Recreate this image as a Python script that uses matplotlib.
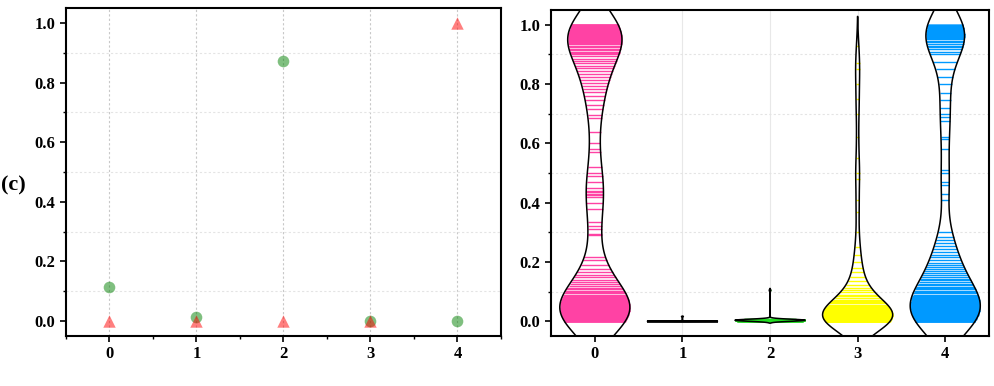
import numpy as np
import matplotlib.pyplot as plt
from matplotlib import mlab
from matplotlib.ticker import MultipleLocator, FormatStrFormatter

plt.rcParams['font.family'] = ['Liberation Serif', 'DejaVu Serif']
plt.rcParams['font.weight'] = 'bold'
plt.rcParams['font.size'] = 10

# left panel: one value per class
classes = [0, 1, 2, 3, 4]
green_vals = [0.115, 0.015, 0.872, 0.0, 0.0]
red_vals = [0.0, 0.0, 0.0, 0.0, 1.0]

# right panel: samples per class, read from the sticks
v0 = [0.0, 0.0, 0.0, 0.0, 0.0, 0.0, 0.0, 0.0, 0.0, 0.0,
      0.002, 0.004, 0.006, 0.008, 0.01, 0.012, 0.014, 0.016,
      0.018, 0.02, 0.022, 0.024, 0.026, 0.028, 0.03, 0.032, 0.034, 0.036, 0.038,
      0.04, 0.043, 0.046, 0.049, 0.052, 0.055, 0.058,
      0.061, 0.064, 0.067, 0.07, 0.073, 0.076, 0.079, 0.082, 0.086, 0.09, 0.094,
      0.098, 0.102, 0.108, 0.113, 0.12, 0.126, 0.132, 0.14, 0.148, 0.155, 0.165,
      0.175, 0.19, 0.205, 0.218,
      0.29, 0.295, 0.31, 0.32, 0.335, 0.38, 0.4, 0.42, 0.425, 0.43, 0.435, 0.44,
      0.45, 0.47, 0.49, 0.5, 0.52, 0.57, 0.58, 0.6, 0.64,
      0.685, 0.695, 0.715, 0.73, 0.745, 0.76, 0.775, 0.785, 0.795, 0.805, 0.815,
      0.825, 0.835, 0.845, 0.855, 0.862, 0.87, 0.878, 0.886, 0.894,
      0.9, 0.905, 0.91, 0.915, 0.92, 0.925, 0.93, 0.934, 0.938, 0.942, 0.946,
      0.95, 0.953, 0.956, 0.959, 0.962, 0.965, 0.968, 0.971, 0.974, 0.977, 0.98,
      0.983, 0.986, 0.989, 0.992, 0.995, 0.998,
      1.0, 1.0, 1.0, 1.0, 1.0, 1.0, 1.0, 1.0, 1.0]
v1 = [0.0, 0.0, 0.0, 0.0, 0.0, 0.0, 0.0, 0.0, 0.0, 0.0,
      0.0, 0.0, 0.0, 0.0, 0.0, 0.0, 0.0, 0.0, 0.0, 0.0,
      0.0, 0.0, 0.0, 0.0, 0.0, 0.0, 0.0, 0.0, 0.0, 0.0,
      0.0, 0.0, 0.0, 0.0, 0.0, 0.0, 0.0, 0.0, 0.0, 0.016]
v2 = [0.002, 0.003, 0.004, 0.003, 0.002, 0.005, 0.004, 0.003, 0.006, 0.002,
      0.001, 0.003, 0.004, 0.005, 0.003, 0.002, 0.004, 0.003, 0.007, 0.0,
      0.003, 0.004, 0.002, 0.005, 0.003, 0.004, 0.003, 0.002, 0.003, 0.004,
      0.005, 0.002, 0.003, 0.004, 0.003, 0.001, 0.006, 0.003, 0.002, 0.004,
      0.003, 0.005, 0.002, 0.003, 0.004, 0.003, 0.002, 0.004, 0.003, 0.104]
v3 = [0.0, 0.0, 0.0, 0.0, 0.0, 0.0, 0.0, 0.0, 0.0, 0.0, 0.0, 0.0, 0.0, 0.0,
      0.001, 0.002, 0.003, 0.004, 0.005,
      0.006, 0.007, 0.008, 0.009, 0.01, 0.011, 0.012, 0.013, 0.014, 0.015, 0.016,
      0.017, 0.018, 0.019, 0.02, 0.022, 0.024, 0.026, 0.028, 0.03, 0.032, 0.034,
      0.036, 0.038, 0.04, 0.043, 0.046, 0.049, 0.052, 0.056, 0.06, 0.064, 0.068,
      0.073, 0.078, 0.084, 0.09, 0.097, 0.105, 0.113, 0.122,
      0.135, 0.15, 0.165, 0.18, 0.2, 0.225, 0.25,
      0.3, 0.37, 0.41, 0.48, 0.5, 0.55, 0.62, 0.7, 0.75, 0.8, 0.85, 0.87, 0.93]
v4 = [0.0, 0.0, 0.0, 0.0, 0.0, 0.0, 0.0, 0.0, 0.0, 0.0, 0.0,
      0.002, 0.004, 0.006, 0.008, 0.01, 0.012, 0.014,
      0.016, 0.018, 0.02, 0.022, 0.024, 0.026, 0.028, 0.03, 0.032, 0.034, 0.036,
      0.038, 0.04, 0.042, 0.044, 0.046, 0.048, 0.05, 0.053, 0.056, 0.059, 0.062,
      0.065, 0.068, 0.071, 0.074, 0.077, 0.08, 0.083, 0.086, 0.09, 0.094, 0.098,
      0.102, 0.107, 0.112, 0.117, 0.122, 0.127, 0.132, 0.138, 0.144, 0.15, 0.156,
      0.162, 0.168, 0.175, 0.182, 0.19, 0.197,
      0.205, 0.215, 0.225, 0.235, 0.245, 0.255, 0.265, 0.275, 0.285, 0.3,
      0.41, 0.43, 0.46, 0.47, 0.5, 0.51, 0.58, 0.615, 0.62,
      0.675, 0.69, 0.7, 0.72, 0.745, 0.77, 0.8, 0.825, 0.85, 0.875,
      0.9, 0.91, 0.918, 0.925, 0.93, 0.935, 0.943, 0.947, 0.951, 0.955, 0.958,
      0.962, 0.965, 0.968, 0.97, 0.972, 0.975, 0.978, 0.98, 0.982, 0.985, 0.988,
      0.99, 0.992, 0.995, 0.997, 1.0, 1.0, 1.0, 1.0, 1.0]
violin_data = [v0, v1, v2, v3, v4]
stick_colors = ['#FF42A4', '#222222', '#22DD22', '#FFFF00', '#0099FF']
bw_adjust = 0.5


def style_axes(ax, xminor):
    ax.set_xlim(-0.5, 4.5)
    ax.set_ylim(-0.05, 1.05)
    ax.set_xticks(classes)
    ax.yaxis.set_major_locator(MultipleLocator(0.2))
    ax.yaxis.set_minor_locator(MultipleLocator(0.1))
    ax.yaxis.set_major_formatter(FormatStrFormatter('%.1f'))
    if xminor:
        ax.xaxis.set_minor_locator(MultipleLocator(0.5))
    ax.tick_params(which='major', direction='out', length=4, width=1.2, labelsize=12)
    ax.tick_params(which='minor', direction='out', length=2.5, width=1)
    for sp in ax.spines.values():
        sp.set_linewidth(1.5)
    ax.set_axisbelow(True)


fig = plt.figure(figsize=(9.95, 3.86), dpi=100)
ax1 = fig.add_axes([0.0663, 0.1295, 0.4372, 0.8495])
ax2 = fig.add_axes([0.5538, 0.1295, 0.4402, 0.8445])

# left: scatter
style_axes(ax1, True)
ax1.grid(axis='x', which='major', ls=(0, (2, 2)), color='#c8c8c8', lw=0.8)
ax1.grid(axis='y', which='minor', ls=(0, (2, 2)), color='#e4e4e4', lw=0.8)
ax1.scatter(classes, green_vals, s=70, c='green', alpha=0.5, marker='o',
            linewidths=0, zorder=3)
ax1.scatter(classes, red_vals, s=80, c='red', alpha=0.5, marker='^',
            linewidths=0, zorder=3)

# right: violins with coloured sticks
style_axes(ax2, False)
ax2.grid(axis='x', which='major', ls='-', color='#e8e8e8', lw=0.8)
ax2.grid(axis='y', which='minor', ls=(0, (2, 2)), color='#e4e4e4', lw=0.8)
for i, (vals, col) in enumerate(zip(violin_data, stick_colors)):
    d = np.asarray(vals, dtype=float)
    n = len(d)
    kde = mlab.GaussianKDE(d, bw_adjust * n ** (-0.2))
    bw = kde.factor * d.std(ddof=1)
    grid = np.linspace(d.min() - 2 * bw, d.max() + 2 * bw, 400)
    dens = kde.evaluate(grid)
    scale = 0.4 / dens.max()
    half = dens * scale
    ax2.fill_betweenx(grid, i - half, i + half, facecolor='white',
                      edgecolor='none', zorder=2)
    sw = kde.evaluate(d) * scale
    ax2.hlines(d, i - sw, i + sw, colors=col, lw=1.0, zorder=3)
    ax2.fill_betweenx(grid, i - half, i + half, facecolor='none',
                      edgecolor='black', lw=1.1, zorder=4)

fig.text(0.013, 0.52, '(c)', fontsize=16, fontweight='bold', ha='center', va='center')

fig.savefig('out.png', dpi=100)
